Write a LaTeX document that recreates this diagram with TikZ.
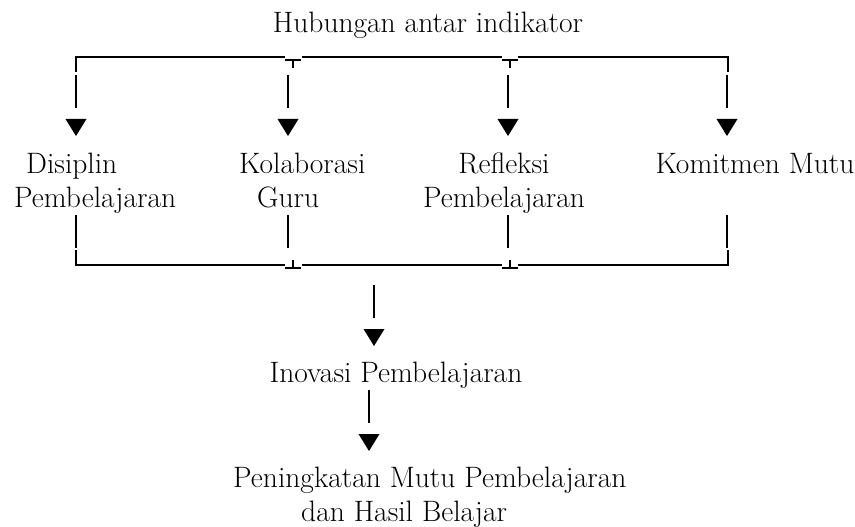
\documentclass[tikz,border=0pt]{standalone}
\usetikzlibrary{calc}

\tikzset{
  lbl/.style={inner sep=0pt, anchor=base, font=\fontsize{29.5}{34}\selectfont},
  wire/.style={line width=1.3pt},
  head/.pic={\fill (-10.5,11) -- (10.5,11) -- (0,28) -- cycle;}
}

\begin{document}
\begin{tikzpicture}[x=1pt,y=-1pt]
\useasboundingbox (0,0) rectangle (855,527);

% labels (two-line nodes sit on their last line)
\node[lbl] (judul) at (428,33) {Hubungan antar indikator};
\node[lbl, align=left, anchor=base west] (dis) at (14,207) {\hspace{12pt}Disiplin\\Pembelajaran};
\node[lbl, align=left, anchor=base west] (kol) at (239,207) {Kolaborasi\\\hspace{18pt}Guru};
\node[lbl, align=center] (ref) at (504,207) {Refleksi\\Pembelajaran};
\node[lbl] (kom) at (755,173) {Komitmen Mutu};
\node[lbl] (ino) at (396,382) {Inovasi Pembelajaran};
\node[lbl, align=left, anchor=base west] (hasil) at (233,521) {Peningkatan Mutu Pembelajaran\\\hspace{68pt}dan Hasil Belajar};

% top bar
\draw[wire] (76,72) |- (285,57);
\draw[wire] (302,57) -- (502,57);
\draw[wire] (518,57) -| (728,72);
% bottom bar
\draw[wire] (76,250) |- (285,265);
\draw[wire] (302,265) -- (502,265);
\draw[wire] (518,265) -| (728,250);
\foreach \x in {293,510} {
  \draw[wire] (\x-8,60) -- (\x+8,60) (\x,60) -- (\x,68);
  \draw[wire] (\x-8,268) -- (\x+8,268) (\x,268) -- (\x,260);
}

% branches
\foreach \x [count=\i] in {76,288,508,727} {
  \coordinate (up\i) at (\x,75);
  \coordinate (dn\i) at (\x,108);
  \draw[wire] (up\i) -- (dn\i) pic{head};
  \coordinate (lo\i) at (\x,215);
  \coordinate (bar\i) at (\x,248);
  \draw[wire] (lo\i) -- (bar\i);
}

% main line
\coordinate (m1) at (374,285);
\draw[wire] (m1) -- (m1 |- 0,318) pic{head};
\draw[wire] (369,390) -- (369,423) pic{head};
\end{tikzpicture}
\end{document}
